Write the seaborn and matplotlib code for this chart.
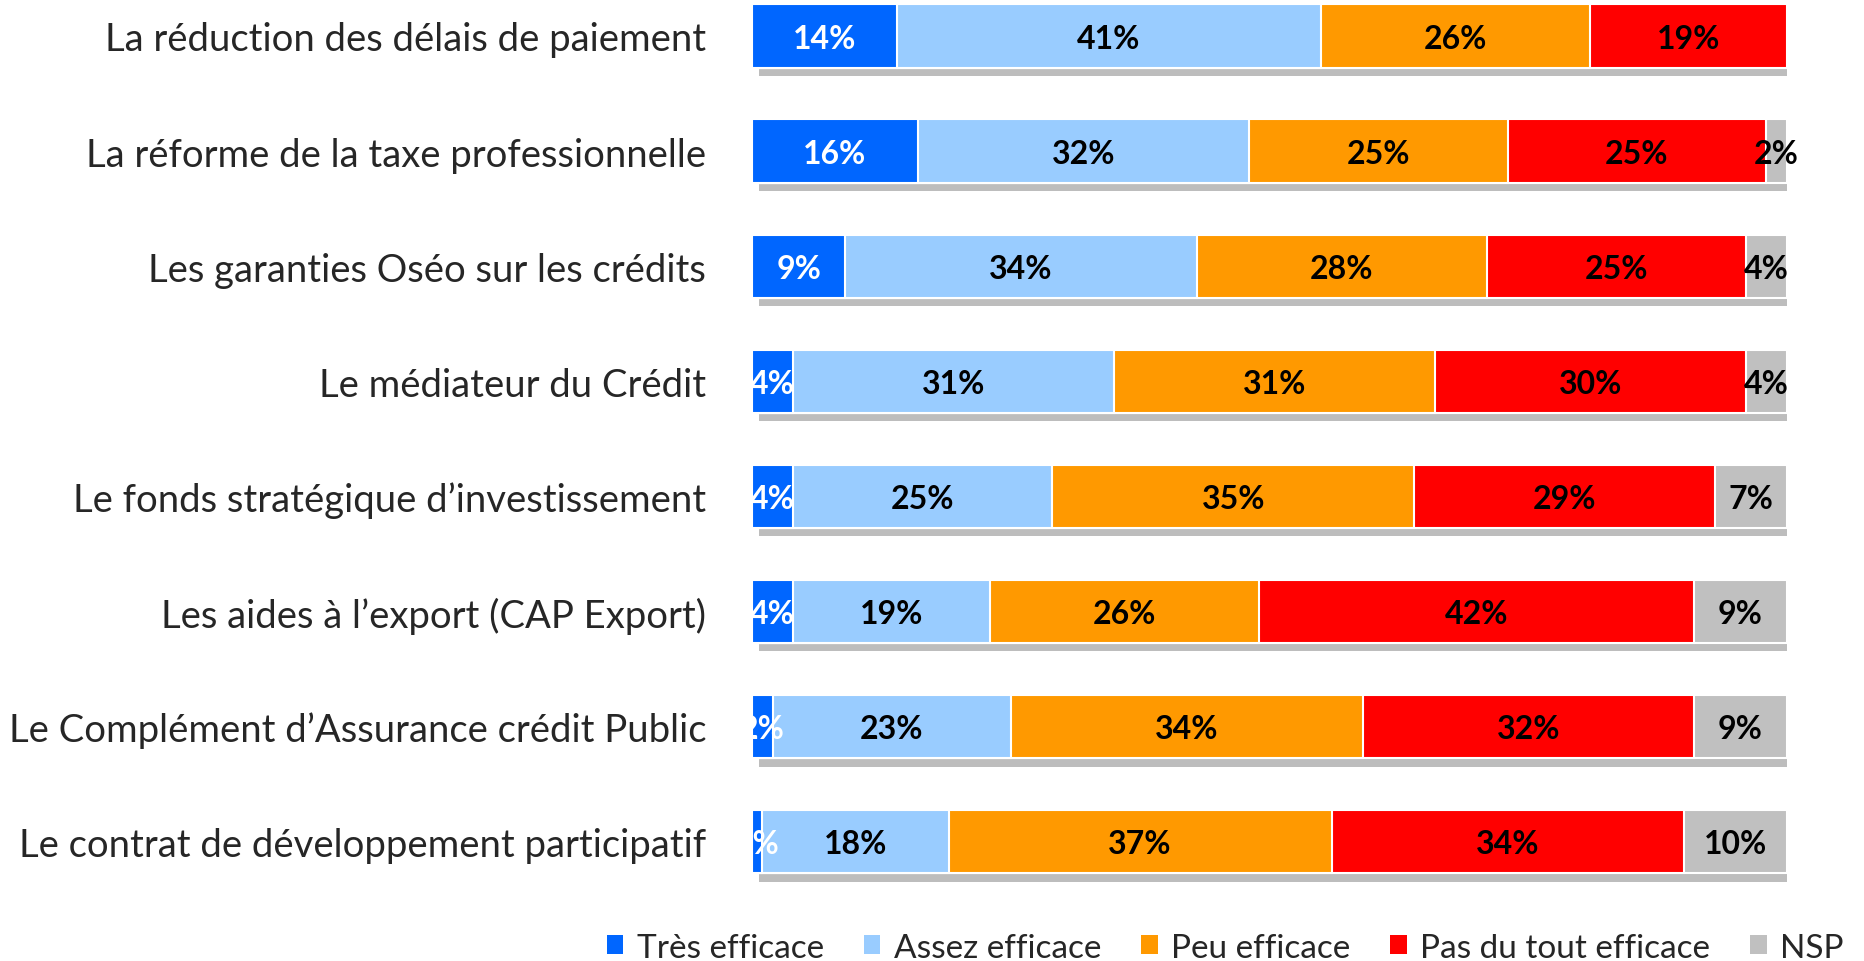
import matplotlib.pyplot as plt
import matplotlib.patheffects as pe
from matplotlib.patches import Patch
import numpy as np
import pandas as pd
import seaborn as sns

categories = [
    'La réduction des délais de paiement',
    'La réforme de la taxe professionnelle',
    'Les garanties Oséo sur les crédits',
    'Le médiateur du Crédit',
    'Le fonds stratégique d’investissement',
    'Les aides à l’export (CAP Export)',
    'Le Complément d’Assurance crédit Public',
    'Le contrat de développement participatif',
]
series = ['Très efficace', 'Assez efficace', 'Peu efficace',
          'Pas du tout efficace', 'NSP']
tres = [14, 16, 9, 4, 4, 4, 2, 1]
assez = [41, 32, 34, 31, 25, 19, 23, 18]
peu = [26, 25, 28, 31, 35, 26, 34, 37]
pas = [19, 25, 25, 30, 29, 42, 32, 34]
nsp = [0, 2, 4, 4, 7, 9, 9, 10]
colors = ['#0066FF', '#99CCFF', '#FF9900', '#FF0000', '#C0C0C0']
text_colors = ['white', 'black', 'black', 'black', 'black']

sns.set_style('white')
plt.rcParams['font.family'] = ['Lato', 'DejaVu Sans']

values = np.array([tres, assez, peu, pas, nsp], dtype=float)
cums = values.cumsum(axis=0)

fig = plt.figure(figsize=(18.65, 9.62), dpi=100)
ax = fig.add_axes([752 / 1865, 1 - 900 / 962, 1035 / 1865, 900 / 962])

# stacked bars: draw the cumulative totals from the widest to the narrowest
for k in range(len(series) - 1, -1, -1):
    df = pd.DataFrame({'cat': categories, 'cum': cums[k]})
    n_before = len(ax.patches)
    sns.barplot(data=df, x='cum', y='cat', orient='h', color=colors[k],
                width=0.55, edgecolor='white', linewidth=1.5,
                errorbar=None, saturation=1, ax=ax)
    if k == len(series) - 1:
        for p in ax.patches[n_before:]:
            p.set_path_effects([
                pe.SimplePatchShadow(offset=(5, -6), shadow_rgbFace='#bdbdbd',
                                     alpha=1),
                pe.Normal()])

for k in range(len(series)):
    for i, v in enumerate(values[k]):
        if v <= 0:
            continue
        ax.text(cums[k][i] - v / 2, i + 0.02, f'{int(v)}%', ha='center',
                va='center', fontsize=23, fontweight='bold',
                color=text_colors[k], clip_on=False)

ax.set_xlim(0, 100)
ax.set_ylim(7.498, -0.321)
ax.set_xlabel('')
ax.set_ylabel('')
ax.set_xticks([])
ax.tick_params(axis='y', length=0, pad=33, labelsize=27.5)
for s in ax.spines.values():
    s.set_visible(False)

handles = [Patch(facecolor=c, edgecolor='none') for c in colors]
fig.legend(handles, series, loc='center', bbox_to_anchor=(0.657, 0.014),
           ncol=5, frameon=False, fontsize=24, handlelength=0.5,
           handleheight=0.5, handletextpad=0.4, columnspacing=1.2)

fig.savefig('out.png', dpi=100)
